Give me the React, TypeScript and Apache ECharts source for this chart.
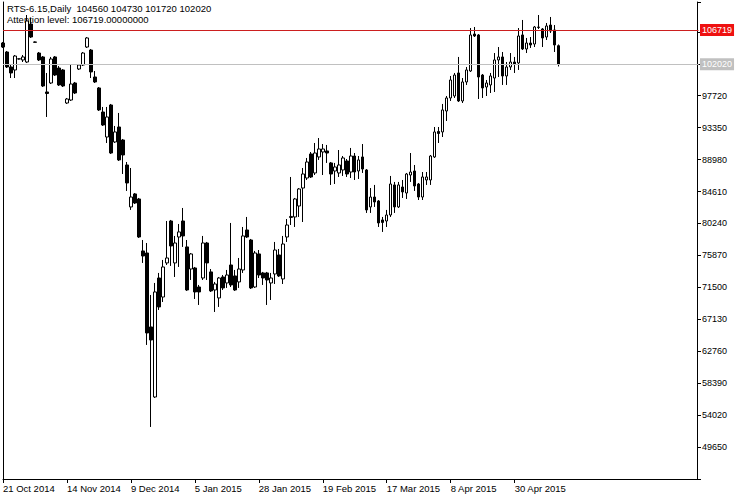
import React, { useEffect, useRef } from 'react';
import * as echarts from 'echarts';

const symbolName = 'RTS-6.15';
const periodName = 'Daily';
const attentionLevel = 106719;

const tickLabels = ['21 Oct 2014', '14 Nov 2014', '9 Dec 2014', '5 Jan 2015', '28 Jan 2015', '19 Feb 2015', '17 Mar 2015', '8 Apr 2015', '30 Apr 2015'];
const barsPerLabel = 16;
const slotCount = 175;

const opens = [
  104930, 103700, 101650, 101240, 102740, 102610, 102330, 107530, 105070, 103560,
  103020, 98230, 99460, 103020, 101510, 101240, 96720, 97130, 99460, 101370,
  101920, 104380, 103970, 100280, 98780, 95490, 92070, 96450, 91390, 93440,
  91660, 88240, 82500, 84280, 83590, 76480, 76200, 66080, 56500, 72780,
  70180, 74840, 80580, 74840, 78390, 80580, 77030, 74010, 74150, 71550,
  72780, 77570, 73610, 71140, 70050, 72920, 72100, 74560, 73060, 72240,
  73880, 79350, 77980, 71550, 76070, 73470, 73470, 72100, 73330, 75930,
  72650, 78390, 81060, 81130, 82630, 85090, 86460, 89750, 87150, 89340,
  90020, 90160, 88520, 87420, 87150, 87560, 88790, 87280, 89470, 87420,
  89340, 87560, 82500, 83860, 83320, 80720, 80580, 81400, 85510, 82500,
  85230, 84410, 86870, 87420, 85640, 83860, 86190, 86190, 89340, 92830,
  92760, 95630, 97410, 97680, 100830, 97000, 99600, 101100, 106160, 106030,
  100550, 98910, 99190, 100140, 102610, 103020, 100420, 101650, 102330, 102200,
  106030, 104110, 104930, 104790, 107050, 106850, 105750, 107390, 106710, 104560
];
const closes = [
  104380, 101650, 100830, 103150, 102770, 103020, 107940, 105750, 105030, 102610,
  99050, 98020, 102740, 100550, 99190, 99050, 97270, 99320, 98090, 101920,
  103560, 105620, 100970, 99600, 95770, 93710, 94810, 89880, 92760, 88930,
  89610, 85780, 83860, 83040, 78390, 75790, 65260, 64300, 70870, 68820,
  74290, 75520, 77160, 77570, 79080, 78530, 71140, 76070, 70870, 70870,
  77570, 74840, 71010, 71960, 72780, 71420, 73190, 71830, 71140, 74010,
  78530, 78390, 71420, 76200, 73190, 72780, 72510, 72780, 76610, 73060,
  77430, 80030, 81200, 83590, 84960, 87010, 88650, 86600, 89880, 90430,
  90430, 89880, 87010, 87970, 88240, 89200, 87010, 89470, 87280, 88930,
  87690, 82090, 83860, 83180, 80310, 80380, 81400, 85640, 82500, 85510,
  84550, 87010, 87280, 85370, 83860, 86600, 86600, 89470, 92760, 92550,
  95770, 97410, 99870, 100550, 97000, 99600, 101240, 106030, 105890, 100280,
  98780, 99460, 100420, 102610, 103020, 100420, 101650, 102330, 102060, 105890,
  104110, 104930, 104660, 107120, 107120, 105620, 107260, 106570, 104660, 102020
];
const lows = [
  104250, 101510, 100140, 100140, 102670, 102330, 102200, 105620, 105000, 102470,
  98910, 94810, 99320, 100420, 99050, 98910, 96590, 97000, 97950, 101240,
  101780, 104250, 100140, 99460, 95630, 93580, 91250, 89750, 91250, 88790,
  87010, 84690, 82090, 82910, 78260, 74840, 63620, 52400, 56370, 68410,
  69500, 74560, 74430, 72920, 74290, 77030, 71010, 72510, 69910, 69090,
  72510, 72510, 70870, 68130, 68820, 71140, 71420, 71550, 71010, 71420,
  73470, 78260, 71280, 71420, 72780, 71830, 69090, 69770, 71960, 72920,
  71960, 77710, 80030, 79760, 81130, 80440, 86190, 86460, 86870, 88930,
  86870, 88520, 85510, 85640, 86600, 86740, 86600, 86460, 86190, 86330,
  87150, 81680, 81680, 82500, 79760, 79080, 79760, 81130, 81680, 82360,
  83730, 83590, 85920, 84690, 83450, 83450, 85510, 85510, 89200, 91250,
  92070, 94260, 97000, 97410, 96860, 96720, 99190, 100970, 105750, 97270,
  97410, 97680, 98090, 98230, 100280, 99190, 99190, 101240, 100830, 101240,
  103970, 103560, 104250, 104380, 106850, 104380, 105340, 106300, 103700, 101720
];
const highs = [
  105070, 103840, 101920, 103290, 102810, 103290, 108760, 108350, 105140, 103700,
  103150, 100830, 103020, 103150, 101780, 101370, 97410, 101920, 99600, 102060,
  103700, 105750, 104110, 101100, 98910, 96180, 96180, 96590, 93580, 95360,
  91800, 88650, 87830, 84410, 83730, 77980, 77570, 70460, 72100, 73470,
  75250, 80580, 80720, 78530, 80170, 82360, 77980, 76200, 74290, 71830,
  78530, 77710, 74010, 72240, 72920, 73190, 73880, 80310, 73880, 75520,
  79760, 81130, 78120, 76480, 76610, 73610, 73610, 73470, 77710, 76750,
  78530, 80850, 86600, 83730, 85090, 87830, 89200, 90020, 91250, 91930,
  91110, 90980, 88650, 88520, 90290, 89470, 89060, 90570, 89880, 89470,
  91110, 87690, 85090, 85510, 83450, 81130, 82090, 86740, 85920, 85920,
  86190, 87150, 89880, 88240, 85780, 87280, 87280, 89610, 93440, 93440,
  96590, 97680, 100420, 100830, 103020, 100140, 101650, 106980, 107120, 106160,
  100690, 99870, 100830, 103560, 104380, 103700, 102330, 103560, 103020, 106980,
  108080, 105620, 105750, 107260, 108760, 106980, 107670, 108490, 107390, 104730
];

const yMin = 45280;
const yMax = 110540;
const yStep = 4370;

const FONT = '"Liberation Sans", Arial, sans-serif';

export default function App() {
  const ref = useRef<HTMLDivElement>(null);

  useEffect(() => {
    if (!ref.current) return;
    const chart = echarts.init(ref.current, undefined, { renderer: 'svg' });
    const last = opens.length - 1;
    const lastClose = closes[last];
    const headerText = `${symbolName},${periodName}  ${opens[last]} ${highs[last]} ${lows[last]} ${closes[last]}`;
    const attentionText = `Attention level: ${attentionLevel.toFixed(8)}`;
    const categories = Array.from({ length: slotCount }, (_, i) => String(i));
    const data = opens.map((o, i) => [o, closes[i], lows[i], highs[i]]);
    const showTick = (i: number) => i % barsPerLabel === 0 && i / barsPerLabel < tickLabels.length;

    chart.setOption({
      animation: false,
      backgroundColor: '#ffffff',
      grid: { left: 2.5, right: 51.5, top: 2, bottom: 21, containLabel: false },
      graphic: [
        { type: 'text', left: 7, top: 3, style: { text: headerText, fontFamily: FONT, fontSize: 9.5, fill: '#000' } },
        { type: 'text', left: 7, top: 14, style: { text: attentionText, fontFamily: FONT, fontSize: 9.5, fill: '#000' } },
      ],
      xAxis: {
        type: 'category',
        data: categories,
        boundaryGap: false,
        axisLine: { show: true, lineStyle: { color: '#000', width: 1 } },
        axisTick: { show: true, interval: showTick, length: 4, lineStyle: { color: '#000' } },
        axisLabel: {
          show: true,
          interval: showTick,
          formatter: (_v: string, i: number) => tickLabels[i / barsPerLabel] ?? '',
          align: 'left',
          margin: 4,
          color: '#000',
          fontFamily: FONT,
          fontSize: 9.5,
        },
        splitLine: { show: false },
      },
      yAxis: [
        {
          type: 'value',
          position: 'right',
          min: yMin,
          max: yMax,
          interval: yStep,
          offset: -1.5,
          axisLine: { show: true, lineStyle: { color: '#000', width: 1 } },
          axisTick: { show: true, length: 4, lineStyle: { color: '#000' } },
          axisLabel: {
            show: true,
            margin: 5,
            color: '#000',
            fontFamily: FONT,
            fontSize: 9,
            formatter: (v: number) => (v <= yMin || v > 100000 ? '' : String(v)),
          },
          splitLine: { show: false },
        },
        {
          type: 'value',
          position: 'left',
          min: yMin,
          max: yMax,
          axisLine: { show: true, onZero: false, lineStyle: { color: '#000', width: 1 } },
          axisTick: { show: false },
          axisLabel: { show: false },
          splitLine: { show: false },
        },
      ],
      series: [
        {
          type: 'candlestick',
          data,
          barWidth: 3,
          itemStyle: {
            color: '#ffffff',
            color0: '#000000',
            borderColor: '#000000',
            borderColor0: '#000000',
            borderWidth: 1,
          },
          emphasis: { disabled: true },
          markLine: {
            silent: true,
            symbol: ['none', 'none'],
            animation: false,
            data: [
              {
                yAxis: attentionLevel,
                lineStyle: { color: '#cc1f1f', width: 1, type: 'solid' },
                label: {
                  show: true,
                  position: 'end',
                  distance: 1.5,
                  formatter: () => String(attentionLevel),
                  backgroundColor: '#ee1111',
                  color: '#ffffff',
                  fontFamily: FONT,
                  fontSize: 9,
                  lineHeight: 10,
                  padding: [1, 2, 1, 2],
                },
              },
              {
                yAxis: lastClose,
                lineStyle: { color: '#c0c0c0', width: 1, type: 'solid' },
                label: {
                  show: true,
                  position: 'end',
                  distance: 1.5,
                  formatter: () => String(lastClose),
                  backgroundColor: '#c0c0c0',
                  color: '#ffffff',
                  fontFamily: FONT,
                  fontSize: 9,
                  lineHeight: 10,
                  padding: [1, 2, 1, 2],
                },
              },
            ],
          },
        },
      ],
    });
    return () => chart.dispose();
  }, []);

  return <div ref={ref} style={{ position: 'fixed', left: 0, top: 0, width: 750, height: 500 }} />;
}
